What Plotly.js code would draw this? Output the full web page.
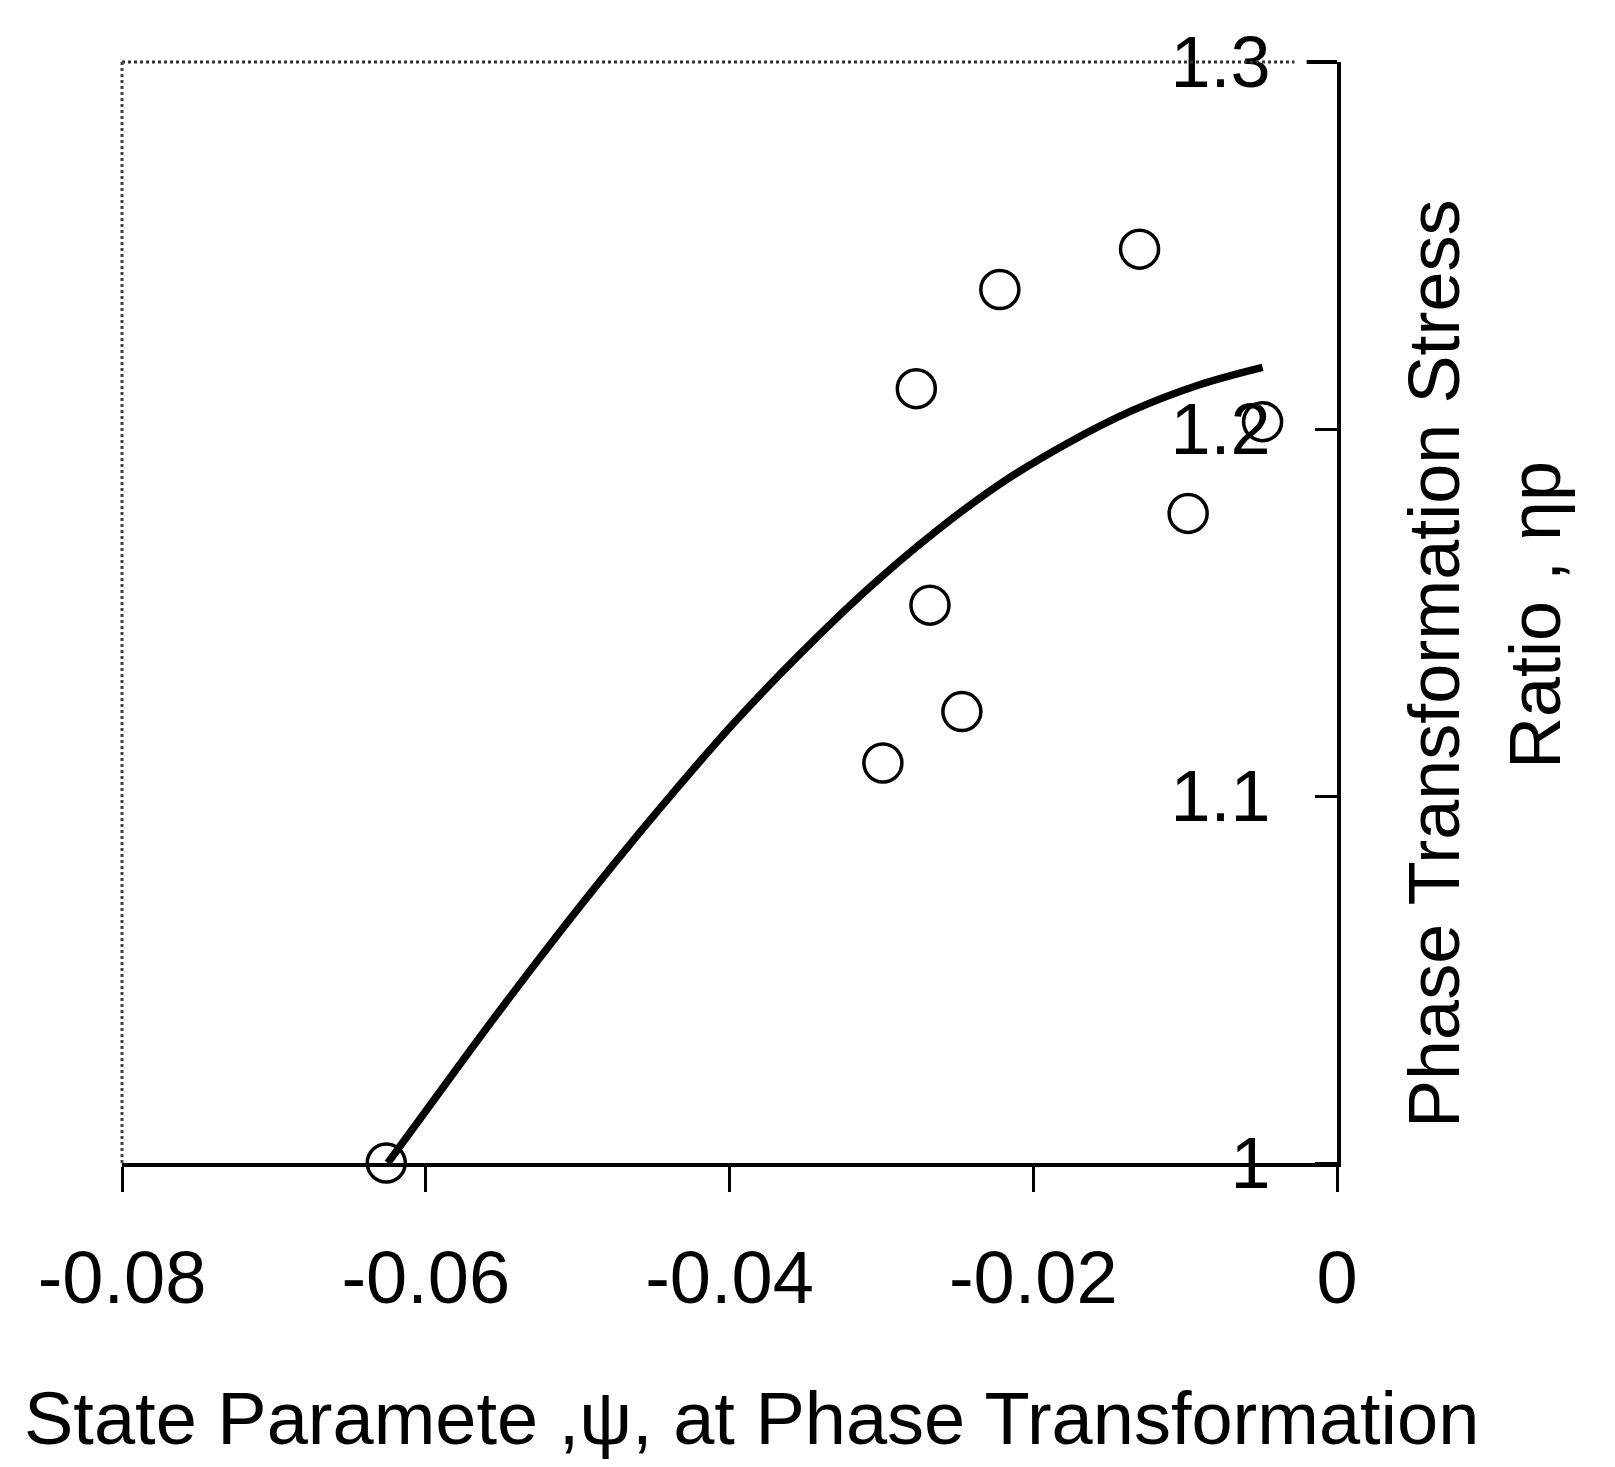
<!DOCTYPE html>
<html>
<head>
<meta charset="utf-8">
<script src="https://cdn.plot.ly/plotly-3.0.1.min.js"></script>
<style>html,body{margin:0;padding:0;background:#fff;}</style>
</head>
<body>
<div id="chart" style="width:1615px;height:1467px;"></div>
<script>
// Measured data points (state parameter psi, stress ratio eta_p)
const pointPsi = [-0.0130, -0.0222, -0.0277, -0.0098, -0.0049, -0.0268, -0.0247, -0.0299, -0.0626];
const pointEta = [1.249, 1.238, 1.211, 1.177, 1.202, 1.152, 1.123, 1.109, 1.000];

// Fitted curve
const curvePsi = [-0.0625, -0.0602, -0.0564, -0.0520, -0.0477, -0.0441, -0.0398, -0.0354,
                  -0.0310, -0.0266, -0.0222, -0.0178, -0.0135, -0.0091, -0.0049];
const curveEta = [1.000, 1.0130, 1.0345, 1.0585, 1.0810, 1.0990, 1.1195, 1.1385,
                  1.1560, 1.1715, 1.1850, 1.1960, 1.2050, 1.2120, 1.2168];

// Tick labels
const xTickVals = [-0.08, -0.06, -0.04, -0.02, 0];
const xTickText = ['-0.08', '-0.06', '-0.04', '-0.02', '0'];
const yTickVals = [1.0, 1.1, 1.2, 1.3];
const yTickText = ['1', '1.1', '1.2', '1.3'];

const xTitle = 'State Paramete ,ψ, at Phase Transformation';
const yTitleLine1 = 'Phase Transformation Stress';
const yTitleLine2 = 'Ratio , ηp';

const FONT = '"Liberation Sans", Arial, Helvetica, sans-serif';

const traces = [
  {
    x: curvePsi, y: curveEta, type: 'scatter', mode: 'lines',
    line: {color: '#000', width: 7.5, shape: 'spline', smoothing: 1},
    hoverinfo: 'skip', showlegend: false
  },
  {
    x: pointPsi, y: pointEta, type: 'scatter', mode: 'markers',
    xaxis: 'x', yaxis: 'y2', cliponaxis: false,
    marker: {symbol: 'circle-open', size: 38, color: '#000', line: {color: '#000', width: 3.5}},
    showlegend: false
  }
];

const layout = {
  width: 1615, height: 1467,
  margin: {l: 122, r: 278, t: 62, b: 304},
  paper_bgcolor: '#fff', plot_bgcolor: '#fff',
  font: {family: FONT, color: '#000', size: 72},
  showlegend: false,
  xaxis: {
    range: [-0.08, 0], autorange: false,
    tickvals: xTickVals, ticktext: xTickText,
    ticks: 'outside', ticklen: 25, tickwidth: 3, tickcolor: '#000',
    showline: true, linecolor: '#000', linewidth: 4,
    showgrid: false, zeroline: false,
    tickfont: {family: FONT, size: 74, color: '#000'},
    ticklabelstandoff: 22,
    automargin: false
  },
  yaxis: {
    range: [1.0, 1.3], autorange: false, side: 'right',
    tickvals: yTickVals, ticktext: yTickText,
    ticks: '', showticklabels: false,
    showline: true, linecolor: '#000', linewidth: 4,
    showgrid: false, zeroline: false,
    automargin: false
  },
  yaxis2: {
    overlaying: 'y', side: 'left', anchor: 'free', position: 1,
    range: [1.0, 1.3], autorange: false,
    tickvals: yTickVals, ticktext: yTickText,
    ticks: 'outside', ticklen: 22, tickwidth: 3, tickcolor: '#000',
    ticklabelstandoff: 30,
    showline: false, showgrid: false, zeroline: false,
    tickfont: {family: FONT, size: 72, color: '#000'},
    automargin: false
  },
  annotations: [
    {text: xTitle, xref: 'paper', yref: 'paper', x: 0.5185, y: -0.2325,
     xanchor: 'center', yanchor: 'middle', showarrow: false,
     font: {family: FONT, size: 74, color: '#000'}},
    {text: yTitleLine1, xref: 'paper', yref: 'paper', x: 1.0798, y: 0.4532,
     xanchor: 'center', yanchor: 'middle', showarrow: false, textangle: -90,
     font: {family: FONT, size: 72, color: '#000'}},
    {text: yTitleLine2, xref: 'paper', yref: 'paper', x: 1.163, y: 0.4977,
     xanchor: 'center', yanchor: 'middle', showarrow: false, textangle: -90,
     font: {family: FONT, size: 72, color: '#000'}}
  ],
  shapes: [
    {type: 'line', xref: 'paper', yref: 'paper', x0: 0, x1: 0.965, y0: 1, y1: 1,
     line: {color: '#333', width: 3, dash: 'dot'}},
    {type: 'line', xref: 'paper', yref: 'paper', x0: 0.975, x1: 1, y0: 1, y1: 1,
     line: {color: '#000', width: 4}},
    {type: 'line', xref: 'paper', yref: 'paper', x0: 0, x1: 0, y0: 0, y1: 1,
     line: {color: '#444', width: 3, dash: 'dot'}}
  ]
};

Plotly.newPlot('chart', traces, layout, {displayModeBar: false, staticPlot: true});
</script>
</body>
</html>
